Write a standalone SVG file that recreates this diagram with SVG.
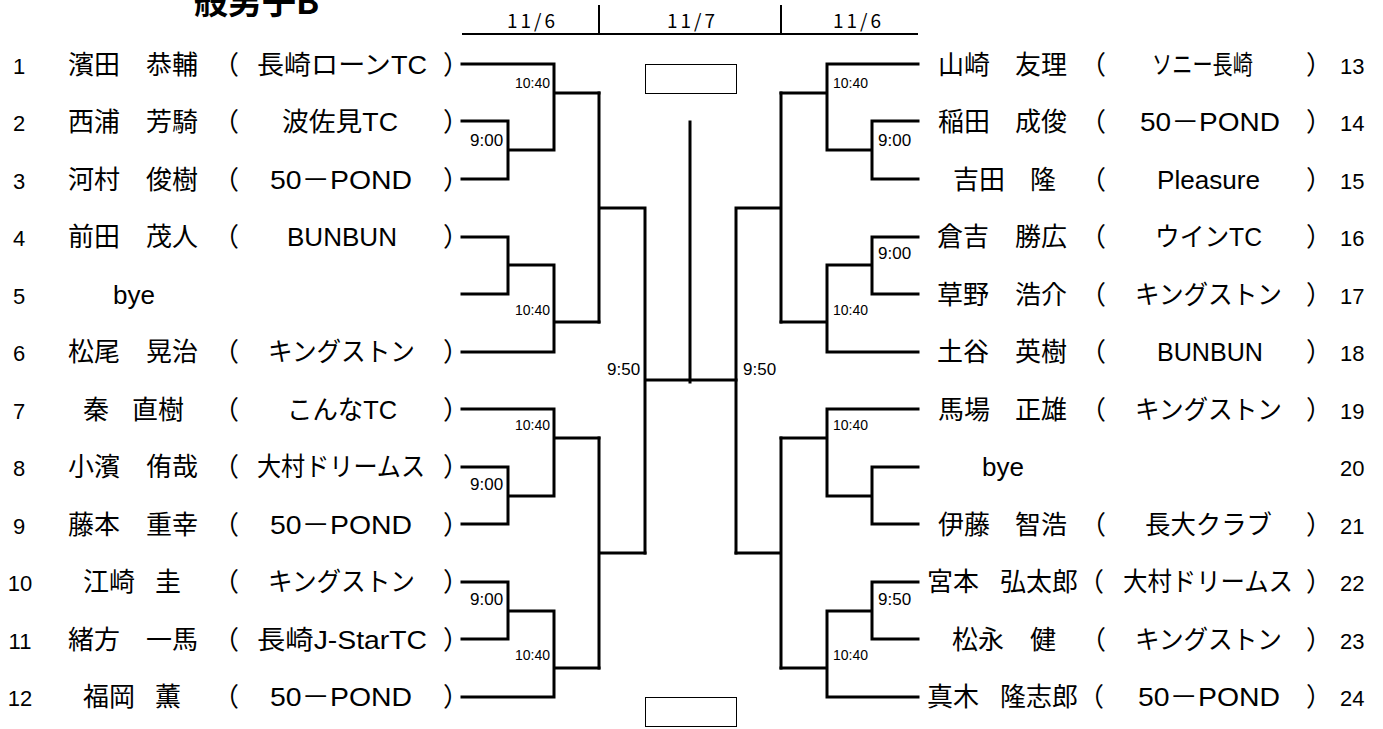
<svg xmlns="http://www.w3.org/2000/svg" width="1383" height="729" viewBox="0 0 1383 729">
<style>
.bg{fill:#fff}
.ln{fill:none;stroke:#000;stroke-width:3;stroke-linecap:square;stroke-linejoin:miter}
.hd{fill:none;stroke:#000;stroke-width:2}
.box{fill:#fff;stroke:#000;stroke-width:1}
text{fill:#000}
.nm{font-family:"Noto Sans CJK JP","Liberation Sans",sans-serif;font-size:26px}
.cl{font-family:"Liberation Sans","Noto Sans CJK JP",sans-serif;font-size:26px}
.no{font-family:"Liberation Sans",sans-serif;font-size:22px}
.pr{font-family:"Noto Sans CJK JP",sans-serif;font-size:26px}
.t1{font-family:"Liberation Sans",sans-serif;font-size:14px}
.t2{font-family:"Liberation Sans",sans-serif;font-size:17px}
.dt{font-family:"Noto Sans CJK JP","Liberation Sans",sans-serif;font-size:19px}
.ti{font-family:"Noto Sans CJK JP",sans-serif;font-size:34px;font-weight:bold}
</style>
<rect class="bg" x="0" y="0" width="1383" height="729"/>
<text class="ti" x="194" y="14">般男子B</text>
<g id="header">
<path class="hd" d="M462,34 H918 M599,5 V34 M781,5 V34"/>
<text class="dt" x="507" y="28" textLength="48" lengthAdjust="spacing">11/6</text>
<text class="dt" x="667" y="28" textLength="48" lengthAdjust="spacing">11/7</text>
<text class="dt" x="833" y="28" textLength="48" lengthAdjust="spacing">11/6</text>
</g>
<g id="connectors">
<path class="ln" d="M462,64 H554 V150 M462,121 H508 V179 H462 M508,150 H554 M554,93 H599"/>
<path class="ln" d="M462,237 H508 V294 H462 M508,265 H554 M462,352 H554 V265 M554,322 H599"/>
<path class="ln" d="M599,93 V322 M599,208 H645 M645,208 V553 M645,380 H736 M690,122 V382"/>
<path class="ln" d="M462,409 H554 V496 M462,467 H508 V524 H462 M508,496 H554 M554,438 H599"/>
<path class="ln" d="M462,582 H508 V639 H462 M508,611 H554 M462,697 H554 V611 M554,668 H599"/>
<path class="ln" d="M599,438 V668 M599,553 H645"/>
<path class="ln" d="M918,64 H827 V150 M918,121 H872 V179 H918 M872,150 H827 M827,93 H781"/>
<path class="ln" d="M918,237 H872 V294 H918 M872,265 H827 M918,352 H827 V265 M827,322 H781"/>
<path class="ln" d="M781,93 V322 M781,208 H736 M736,208 V553"/>
<path class="ln" d="M918,409 H827 V496 M918,467 H872 V524 H918 M872,496 H827 M827,438 H781"/>
<path class="ln" d="M918,582 H872 V639 H918 M872,611 H827 M918,697 H827 V611 M827,668 H781"/>
<path class="ln" d="M781,438 V668 M781,553 H736"/>
</g>
<g id="boxes">
<rect class="box" x="645.5" y="64.5" width="91" height="29"/>
<rect class="box" x="645.5" y="697.5" width="91" height="29"/>
</g>
<g id="times">
<text class="t1" x="550" y="88" text-anchor="end">10:40</text>
<text class="t2" x="470" y="146">9:00</text>
<text class="t1" x="550" y="315" text-anchor="end">10:40</text>
<text class="t1" x="550" y="430" text-anchor="end">10:40</text>
<text class="t2" x="470" y="490">9:00</text>
<text class="t2" x="470" y="605">9:00</text>
<text class="t1" x="550" y="660" text-anchor="end">10:40</text>
<text class="t2" x="607" y="375">9:50</text>
<text class="t2" x="743" y="375">9:50</text>
<text class="t1" x="833" y="88">10:40</text>
<text class="t2" x="878" y="146">9:00</text>
<text class="t2" x="878" y="259">9:00</text>
<text class="t1" x="833" y="315">10:40</text>
<text class="t1" x="833" y="430">10:40</text>
<text class="t2" x="878" y="605">9:50</text>
<text class="t1" x="833" y="660">10:40</text>
</g>
<g id="p1"><text class="no" x="19" y="74" text-anchor="middle">1</text><text class="nm" x="68" y="74">濱田</text><text class="nm" x="146" y="74">恭輔</text><text class="pr" x="213" y="74">（</text><text class="cl" x="257" y="74" textLength="170" lengthAdjust="spacingAndGlyphs">長崎ローンTC</text><text class="pr" x="443" y="74">）</text></g>
<g id="p2"><text class="no" x="19" y="131" text-anchor="middle">2</text><text class="nm" x="68" y="131">西浦</text><text class="nm" x="146" y="131">芳騎</text><text class="pr" x="213" y="131">（</text><text class="cl" x="282" y="131" textLength="116" lengthAdjust="spacingAndGlyphs">波佐見TC</text><text class="pr" x="443" y="131">）</text></g>
<g id="p3"><text class="no" x="19" y="189" text-anchor="middle">3</text><text class="nm" x="68" y="189">河村</text><text class="nm" x="146" y="189">俊樹</text><text class="pr" x="213" y="189">（</text><text class="cl" x="270" y="189" textLength="142" lengthAdjust="spacingAndGlyphs">50－POND</text><text class="pr" x="443" y="189">）</text></g>
<g id="p4"><text class="no" x="19" y="246" text-anchor="middle">4</text><text class="nm" x="68" y="246">前田</text><text class="nm" x="146" y="246">茂人</text><text class="pr" x="213" y="246">（</text><text class="cl" x="287" y="246" textLength="110" lengthAdjust="spacingAndGlyphs">BUNBUN</text><text class="pr" x="443" y="246">）</text></g>
<g id="p5"><text class="no" x="19" y="304" text-anchor="middle">5</text><text class="cl" x="113" y="304">bye</text></g>
<g id="p6"><text class="no" x="19" y="361" text-anchor="middle">6</text><text class="nm" x="68" y="361">松尾</text><text class="nm" x="146" y="361">晃治</text><text class="pr" x="213" y="361">（</text><text class="cl" x="268" y="361" textLength="147" lengthAdjust="spacingAndGlyphs">キングストン</text><text class="pr" x="443" y="361">）</text></g>
<g id="p7"><text class="no" x="19" y="419" text-anchor="middle">7</text><text class="nm" x="83" y="419">秦</text><text class="nm" x="132" y="419">直樹</text><text class="pr" x="213" y="419">（</text><text class="cl" x="287" y="419" textLength="110" lengthAdjust="spacingAndGlyphs">こんなTC</text><text class="pr" x="443" y="419">）</text></g>
<g id="p8"><text class="no" x="19" y="476" text-anchor="middle">8</text><text class="nm" x="68" y="476">小濱</text><text class="nm" x="146" y="476">侑哉</text><text class="pr" x="213" y="476">（</text><text class="cl" x="257" y="476" textLength="168" lengthAdjust="spacingAndGlyphs">大村ドリームス</text><text class="pr" x="443" y="476">）</text></g>
<g id="p9"><text class="no" x="19" y="534" text-anchor="middle">9</text><text class="nm" x="68" y="534">藤本</text><text class="nm" x="146" y="534">重幸</text><text class="pr" x="213" y="534">（</text><text class="cl" x="270" y="534" textLength="142" lengthAdjust="spacingAndGlyphs">50－POND</text><text class="pr" x="443" y="534">）</text></g>
<g id="p10"><text class="no" x="20" y="591" text-anchor="middle">10</text><text class="nm" x="83" y="591">江崎</text><text class="nm" x="155" y="591">圭</text><text class="pr" x="213" y="591">（</text><text class="cl" x="268" y="591" textLength="147" lengthAdjust="spacingAndGlyphs">キングストン</text><text class="pr" x="443" y="591">）</text></g>
<g id="p11"><text class="no" x="20" y="649" text-anchor="middle">11</text><text class="nm" x="68" y="649">緒方</text><text class="nm" x="146" y="649">一馬</text><text class="pr" x="213" y="649">（</text><text class="cl" x="257" y="649" textLength="170" lengthAdjust="spacingAndGlyphs">長崎J-StarTC</text><text class="pr" x="443" y="649">）</text></g>
<g id="p12"><text class="no" x="20" y="706" text-anchor="middle">12</text><text class="nm" x="83" y="706">福岡</text><text class="nm" x="155" y="706">薫</text><text class="pr" x="213" y="706">（</text><text class="cl" x="270" y="706" textLength="142" lengthAdjust="spacingAndGlyphs">50－POND</text><text class="pr" x="443" y="706">）</text></g>
<g id="p13"><text class="nm" x="938" y="74">山崎</text><text class="nm" x="1015" y="74">友理</text><text class="pr" x="1080" y="74">（</text><text class="cl" x="1152" y="74" textLength="101" lengthAdjust="spacingAndGlyphs">ソニー長崎</text><text class="pr" x="1306" y="74">）</text><text class="no" x="1340" y="74">13</text></g>
<g id="p14"><text class="nm" x="938" y="131">稲田</text><text class="nm" x="1015" y="131">成俊</text><text class="pr" x="1080" y="131">（</text><text class="cl" x="1140" y="131" textLength="140" lengthAdjust="spacingAndGlyphs">50－POND</text><text class="pr" x="1306" y="131">）</text><text class="no" x="1340" y="131">14</text></g>
<g id="p15"><text class="nm" x="953" y="189">吉田</text><text class="nm" x="1030" y="189">隆</text><text class="pr" x="1080" y="189">（</text><text class="cl" x="1157" y="189" textLength="103" lengthAdjust="spacingAndGlyphs">Pleasure</text><text class="pr" x="1306" y="189">）</text><text class="no" x="1340" y="189">15</text></g>
<g id="p16"><text class="nm" x="937" y="246">倉吉</text><text class="nm" x="1015" y="246">勝広</text><text class="pr" x="1080" y="246">（</text><text class="cl" x="1155" y="246" textLength="107" lengthAdjust="spacingAndGlyphs">ウインTC</text><text class="pr" x="1306" y="246">）</text><text class="no" x="1340" y="246">16</text></g>
<g id="p17"><text class="nm" x="937" y="304">草野</text><text class="nm" x="1015" y="304">浩介</text><text class="pr" x="1080" y="304">（</text><text class="cl" x="1135" y="304" textLength="147" lengthAdjust="spacingAndGlyphs">キングストン</text><text class="pr" x="1306" y="304">）</text><text class="no" x="1340" y="304">17</text></g>
<g id="p18"><text class="nm" x="937" y="361">土谷</text><text class="nm" x="1015" y="361">英樹</text><text class="pr" x="1080" y="361">（</text><text class="cl" x="1157" y="361" textLength="106" lengthAdjust="spacingAndGlyphs">BUNBUN</text><text class="pr" x="1306" y="361">）</text><text class="no" x="1340" y="361">18</text></g>
<g id="p19"><text class="nm" x="938" y="419">馬場</text><text class="nm" x="1015" y="419">正雄</text><text class="pr" x="1080" y="419">（</text><text class="cl" x="1135" y="419" textLength="147" lengthAdjust="spacingAndGlyphs">キングストン</text><text class="pr" x="1306" y="419">）</text><text class="no" x="1340" y="419">19</text></g>
<g id="p20"><text class="cl" x="982" y="476">bye</text><text class="no" x="1340" y="476">20</text></g>
<g id="p21"><text class="nm" x="938" y="534">伊藤</text><text class="nm" x="1015" y="534">智浩</text><text class="pr" x="1080" y="534">（</text><text class="cl" x="1145" y="534" textLength="127" lengthAdjust="spacingAndGlyphs">長大クラブ</text><text class="pr" x="1306" y="534">）</text><text class="no" x="1340" y="534">21</text></g>
<g id="p22"><text class="nm" x="927" y="591">宮本</text><text class="nm" x="1000" y="591">弘太郎</text><text class="pr" x="1078" y="591">（</text><text class="cl" x="1123" y="591" textLength="170" lengthAdjust="spacingAndGlyphs">大村ドリームス</text><text class="pr" x="1306" y="591">）</text><text class="no" x="1340" y="591">22</text></g>
<g id="p23"><text class="nm" x="952" y="649">松永</text><text class="nm" x="1030" y="649">健</text><text class="pr" x="1080" y="649">（</text><text class="cl" x="1135" y="649" textLength="147" lengthAdjust="spacingAndGlyphs">キングストン</text><text class="pr" x="1306" y="649">）</text><text class="no" x="1340" y="649">23</text></g>
<g id="p24"><text class="nm" x="927" y="706">真木</text><text class="nm" x="1000" y="706">隆志郎</text><text class="pr" x="1078" y="706">（</text><text class="cl" x="1138" y="706" textLength="142" lengthAdjust="spacingAndGlyphs">50－POND</text><text class="pr" x="1306" y="706">）</text><text class="no" x="1340" y="706">24</text></g>
</svg>
